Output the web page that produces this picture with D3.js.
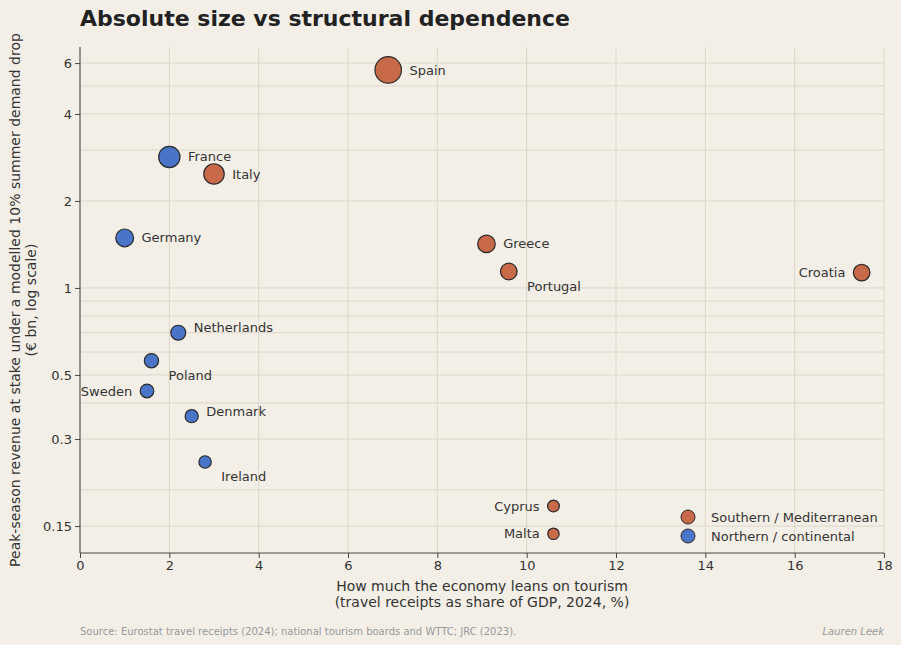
<!DOCTYPE html>
<html><head><meta charset="utf-8">
<script src="https://cdn.jsdelivr.net/npm/d3@7"></script>
<style>body{margin:0;background:#f3efe7;font-family:"DejaVu Sans",sans-serif}</style>
</head><body>
<script>
const countries = ['Spain','France','Italy','Germany','Greece','Portugal','Croatia','Netherlands','Poland','Sweden','Denmark','Ireland','Cyprus','Malta'];
const tourismShare = [6.9,2.0,3.0,1.0,9.1,9.6,17.5,2.2,1.6,1.5,2.5,2.8,10.6,10.6];
const revenueAtStake = [5.68,2.84,2.48,1.49,1.42,1.14,1.13,0.70,0.56,0.44,0.36,0.25,0.176,0.141];
const region = ['S','N','S','N','S','S','S','N','N','N','N','N','S','S'];
const labelPos = ['r','r','r','r','r','br','l','tr','br','l','tr','br','l','l'];
const xTicks = [0,2,4,6,8,10,12,14,16,18];
const yTicks = [0.15,0.3,0.5,1,2,4,6];
const yGrid = [0.15,0.2,0.3,0.4,0.5,0.6,0.7,0.8,0.9,1,2,3,4,5,6];

const W=901,H=645,m={l:80,r:17,t:47,b:92};
const col={S:'#c8694a',N:'#4a74c8'};
const svg=d3.select('body').append('svg').attr('width',W).attr('height',H);
svg.append('rect').attr('width',W).attr('height',H).attr('fill','#f3efe7');
const x=d3.scaleLinear().domain([0,18]).range([m.l,W-m.r]);
const y=d3.scaleLog().domain([0.121,6.82]).range([H-m.b,m.t]);
const r=d3.scaleSqrt().domain([0.1,6]).range([5.5,13.5]);

const g=svg.append('g');
g.selectAll('.vg').data(xTicks).join('line').attr('x1',d=>x(d)).attr('x2',d=>x(d))
 .attr('y1',m.t).attr('y2',H-m.b).attr('stroke','#ddd6c8');
g.selectAll('.hg').data(yGrid).join('line').attr('y1',d=>y(d)).attr('y2',d=>y(d))
 .attr('x1',m.l).attr('x2',W-m.r).attr('stroke','#ddd6c8');

const xa=svg.append('g').attr('transform',`translate(0,${H-m.b})`)
 .call(d3.axisBottom(x).tickValues(xTicks).tickSize(5));
const ya=svg.append('g').attr('transform',`translate(${m.l},0)`)
 .call(d3.axisLeft(y).tickValues(yTicks).tickFormat(d3.format('~g')).tickSize(5));
[xa,ya].forEach(a=>{a.selectAll('text').attr('font-size',13).attr('fill','#333').attr('font-family','DejaVu Sans');
 a.selectAll('line,path').attr('stroke','#444');});
ya.select('.domain').attr('d',`M-0,${m.t}V${H-m.b}`);
xa.select('.domain').attr('d',`M${m.l},0H${W-m.r}`);

const data=countries.map((c,i)=>({c,x:tourismShare[i],v:revenueAtStake[i],g:region[i],p:labelPos[i]}));
svg.selectAll('circle.pt').data(data).join('circle').attr('class','pt')
 .attr('cx',d=>x(d.x)).attr('cy',d=>y(d.v)).attr('r',d=>r(d.v))
 .attr('fill',d=>col[d.g]).attr('stroke','#2a2a2a').attr('stroke-width',1.2);
svg.selectAll('text.lb').data(data).join('text').attr('class','lb')
 .attr('x',d=>{const o=r(d.v)+8;return d.p==='l'?x(d.x)-o:x(d.x)+o+(d.p==='br'?2:0);})
 .attr('y',d=>y(d.v)+(d.p==='br'?15:d.p==='tr'?-5:0))
 .attr('dy','0.35em').attr('text-anchor',d=>d.p==='l'?'end':'start')
 .attr('font-size',13).attr('fill','#333').text(d=>d.c);

const leg=[['Southern / Mediterranean','S'],['Northern / continental','N']];
leg.forEach((l,i)=>{
 svg.append('circle').attr('cx',688).attr('cy',517+i*19).attr('r',7).attr('fill',col[l[1]]).attr('stroke','#2a2a2a');
 svg.append('text').attr('x',711).attr('y',517+i*19).attr('dy','0.35em').attr('font-size',13).attr('fill','#333').text(l[0]);
});

svg.append('text').attr('x',80).attr('y',26).attr('font-size',22).attr('font-weight','bold').attr('fill','#222').text('Absolute size vs structural dependence');
svg.append('text').attr('x',482).attr('y',591).attr('text-anchor','middle').attr('font-size',14).attr('fill','#333').text('How much the economy leans on tourism');
svg.append('text').attr('x',482).attr('y',607).attr('text-anchor','middle').attr('font-size',14).attr('fill','#333').text('(travel receipts as share of GDP, 2024, %)');
const yl=svg.append('text').attr('transform','translate(20,300) rotate(-90)').attr('text-anchor','middle').attr('font-size',14).attr('fill','#333');
yl.append('tspan').attr('x',0).attr('dy',0).text('Peak-season revenue at stake under a modelled 10% summer demand drop');
yl.append('tspan').attr('x',0).attr('dy',16).text('(€ bn, log scale)');
svg.append('text').attr('x',80).attr('y',635).attr('font-size',10).attr('fill','#999').text('Source: Eurostat travel receipts (2024); national tourism boards and WTTC; JRC (2023).');
svg.append('text').attr('x',884).attr('y',635).attr('text-anchor','end').attr('font-size',10).attr('font-style','italic').attr('fill','#999').text('Lauren Leek');
</script>
</body></html>
